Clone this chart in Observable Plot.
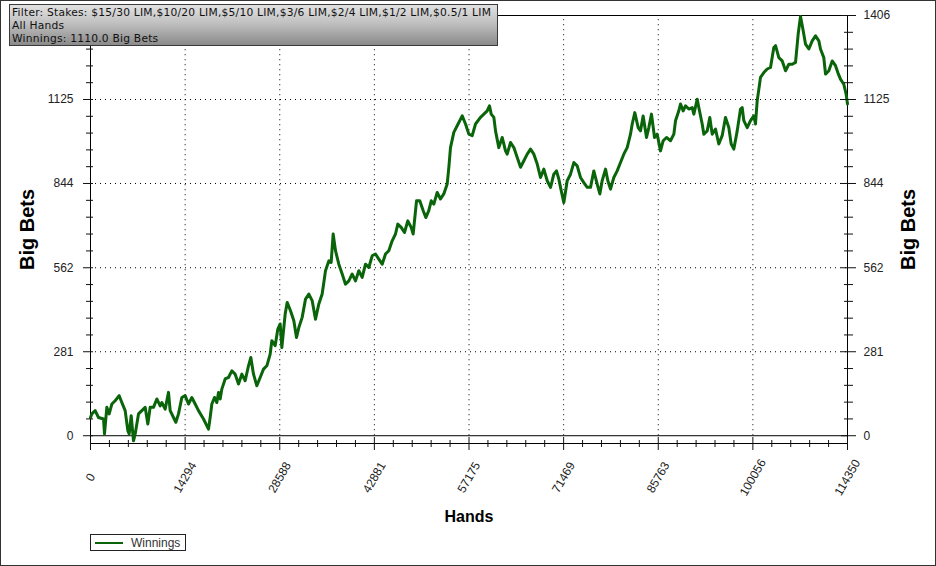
<!DOCTYPE html>
<html>
<head>
<meta charset="utf-8">
<script src="https://cdn.jsdelivr.net/npm/d3@7"></script>
<script src="https://cdn.jsdelivr.net/npm/@observablehq/plot@0.6"></script>
<style>
  html, body { margin: 0; padding: 0; background: #fff; }
  #wrap { position: relative; width: 936px; height: 566px; overflow: hidden; background: #fff; }
  #border { position: absolute; left: 0; top: 0; width: 934px; height: 564px; border: 1px solid #333; pointer-events: none; }
  #filter { position: absolute; left: 9px; top: 4px; width: 489px; height: 42px; border: 1px solid #3a3a3a;
    background: linear-gradient(to bottom, #e2e2e2 0%, #c0c0c0 45%, #8a8a8a 100%);
    font-family: "DejaVu Sans", Verdana, sans-serif; font-size: 10.7px; letter-spacing: 0.22px; line-height: 13px; color: #111; padding: 1px 0 0 2px; box-sizing: border-box; white-space: pre; }
  #legend { position: absolute; left: 90px; top: 534px; width: 96px; height: 17px; border: 1px solid #222; box-sizing: border-box;
    font-family: "Liberation Sans", Arial, sans-serif; font-size: 12px; color: #333; }
  #legend .sw { position: absolute; left: 4px; top: 7px; width: 28px; height: 2px; }
  #legend .lb { position: absolute; left: 40px; top: 1px; }
</style>
</head>
<body>
<div id="wrap"></div>
<script>
// ---- data ----
const hands = [0,200,705,1208,1964,2115,2467,2820,3223,3726,4330,4733,5237,5640,5842,6144,6496,6748,7251,7755,8258,8660,9013,9517,10020,10524,10775,11279,11783,12035,12538,12890,13293,13797,14300,14804,15307,15811,16314,17070,17825,18077,18329,18731,19084,19336,19587,19839,20343,20846,21350,21853,22357,22860,23364,23867,24220,24623,25126,25630,26133,26637,27141,27392,27896,28298,28651,28903,29406,29708,30212,30715,31118,31471,31974,32478,32981,33485,33988,34492,34995,35499,36002,36354,36656,37010,37510,38020,38520,39020,39530,40030,40530,41040,41540,42040,42550,43050,43550,44060,44560,45060,45570,46070,46420,46930,47430,47930,48440,48740,49250,49740,50260,50650,51100,51470,51860,52370,52870,53370,53880,54130,54380,54880,55390,56150,56650,57150,57660,58160,58910,59420,59920,60270,60530,60930,61180,61680,62190,62690,62940,63450,63950,64460,64960,65460,65970,66470,66970,67480,67980,68480,68990,69490,69990,70390,70740,71000,71500,72010,72510,73010,73520,74020,74520,75030,75530,76030,76540,76940,77290,77800,78150,78550,79050,79560,80060,80560,81070,81570,81830,82220,82730,83080,83480,83990,84340,84740,85200,85600,86100,86510,87010,87610,88120,88370,88870,89130,89530,89880,90380,90890,91140,91650,91890,92400,92650,93160,93550,93910,94410,94910,95420,95920,96420,96780,97180,97690,98190,98440,98690,99200,99700,100200,100450,100710,101210,101710,102220,102720,103220,103480,103980,104490,104990,105490,106000,106500,106900,107250,107660,108010,108510,109020,109520,110020,110270,110770,111030,111530,112040,112540,112890,113290,113790,114140,114350];
const bets = [61,73,84,61,56,6,95,73,106,117,134,111,84,17,6,67,-17,6,73,84,95,39,95,95,123,100,111,89,145,84,61,45,73,128,134,106,128,106,84,56,22,61,106,128,111,145,123,156,190,195,217,206,173,206,184,234,262,206,167,195,223,234,273,318,301,357,374,295,407,446,418,385,329,362,396,457,474,452,390,441,474,552,585,580,675,619,574,541,507,518,541,518,552,530,574,563,602,608,591,574,608,619,652,675,708,697,680,719,697,675,786,786,753,730,753,786,775,814,792,809,842,898,964,1015,1037,1070,1043,1009,1004,1043,1065,1076,1087,1104,1076,1065,1020,964,998,953,942,981,964,931,898,920,942,959,942,909,864,892,853,831,875,886,859,831,780,853,875,914,903,864,847,831,831,886,842,809,853,892,853,825,864,886,914,942,964,1009,1043,1081,1031,1020,1070,998,1031,1076,998,1009,953,987,998,987,1009,1054,1087,1110,1087,1104,1093,1098,1076,1126,1098,1043,1009,1020,1065,1009,1026,976,1004,1065,1031,976,959,1020,1093,1098,1054,1031,1054,1070,1043,1121,1199,1215,1227,1232,1299,1305,1265,1254,1221,1243,1243,1249,1344,1403,1355,1310,1294,1321,1338,1321,1294,1265,1210,1221,1254,1238,1215,1193,1176,1143,1110];
const xTicks = [0,14294,28588,42881,57175,71469,85763,100056,114350];
const yTicks = [0,281,562,844,1125,1406];
const seriesName = "Winnings";
const xTitle = "Hands";
const yTitle = "Big Bets";
const filterLines = [
  "Filter: Stakes: $15/30 LIM,$10/20 LIM,$5/10 LIM,$3/6 LIM,$2/4 LIM,$1/2 LIM,$0.5/1 LIM",
  "All Hands",
  "Winnings: 1110.0 Big Bets"
];
const lineColor = "#0a640a";

// ---- build ----
const n = Math.min(hands.length, bets.length);
const data = d3.range(n).map(i => ({h: hands[i], b: bets[i]}));
function minor(ticks) {
  const out = [];
  for (let i = 0; i < ticks.length - 1; i++)
    for (let k = 1; k < 5; k++) out.push(ticks[i] + (ticks[i + 1] - ticks[i]) * k / 5);
  return out;
}
const xDomain = [xTicks[0], xTicks[xTicks.length - 1]];
const yDomain = [-26, yTicks[yTicks.length - 1]];
const fmt = d => String(d);
// the top-left label is hidden behind the filter box in the reference
const leftLabelTicks = yTicks.slice(0, -1);

const chart = Plot.plot({
  width: 936, height: 566,
  marginLeft: 90, marginRight: 89, marginTop: 15, marginBottom: 123,
  x: {domain: xDomain, axis: null, label: null},
  y: {domain: yDomain, axis: null, label: null},
  style: {fontFamily: "'Liberation Sans', Arial, sans-serif", fontSize: "12px", color: "#111", background: "transparent", overflow: "visible"},
  marks: [
    Plot.gridX(xTicks.slice(1, -1), {stroke: "#000", strokeOpacity: 1, strokeDasharray: "1,4", y1: 0, y2: yDomain[1]}),
    Plot.gridY(yTicks.slice(1, -1), {stroke: "#000", strokeOpacity: 1, strokeDasharray: "1,4"}),
    Plot.ruleY([0], {stroke: "#000"}),
    Plot.ruleY([yDomain[1], yDomain[0]], {stroke: "#000"}),
    Plot.ruleX(xDomain, {stroke: "#000", insetBottom: -7}),
    Plot.line(data, {x: "h", y: "b", stroke: lineColor, strokeWidth: 3}),
    // x axis ticks
    Plot.axisX(xTicks, {anchor: "bottom", tickSize: 13, dy: -6, fill: "none", label: null}),
    Plot.axisX(minor(xTicks), {anchor: "bottom", tickSize: 7, dy: -3, fill: "none", label: null}),
    // x tick labels (centered, rotated)
    Plot.text(xTicks, {x: d => d, frameAnchor: "bottom", dy: 34, rotate: -60, textAnchor: "middle", lineAnchor: "middle", text: fmt, fontSize: 12, fill: "#222"}),
    // left y axis
    Plot.axisY(yTicks, {anchor: "left", tickSize: 10, dx: 3, fill: "none", label: null}),
    Plot.axisY(leftLabelTicks, {anchor: "left", tickSize: 10, dx: 3, tickPadding: 10, tickFormat: fmt, label: null, fill: "#222", stroke: "none"}),
    Plot.axisY(minor(yTicks), {anchor: "left", tickSize: 7, dx: 3, fill: "none", label: null}),
    // right y axis
    Plot.axisY(yTicks, {anchor: "right", tickSize: 15, dx: -7, tickPadding: 8, tickFormat: fmt, label: null, fill: "#222"}),
    Plot.axisY(minor(yTicks), {anchor: "right", tickSize: 9, dx: -4, fill: "none", label: null}),
    // titles
    Plot.text([yTitle], {frameAnchor: "left", dx: -63, rotate: -90, textAnchor: "middle", lineAnchor: "middle", fontSize: 20, fontWeight: "bold", fill: "#000"}),
    Plot.text([yTitle], {frameAnchor: "right", dx: 61, rotate: -90, textAnchor: "middle", lineAnchor: "middle", fontSize: 20, fontWeight: "bold", fill: "#000"}),
    Plot.text([xTitle], {frameAnchor: "bottom", dy: 73, textAnchor: "middle", lineAnchor: "middle", fontSize: 16, fontWeight: "bold", fill: "#000"})
  ]
});

const wrap = document.getElementById("wrap");
wrap.appendChild(chart);

const filter = document.createElement("div");
filter.id = "filter";
filter.textContent = filterLines.join("\n");
wrap.appendChild(filter);

const legend = document.createElement("div");
legend.id = "legend";
const sw = document.createElement("div"); sw.className = "sw"; sw.style.background = lineColor;
const lb = document.createElement("div"); lb.className = "lb"; lb.textContent = seriesName;
legend.appendChild(sw); legend.appendChild(lb);
wrap.appendChild(legend);

const border = document.createElement("div");
border.id = "border";
wrap.appendChild(border);
</script>
</body>
</html>
